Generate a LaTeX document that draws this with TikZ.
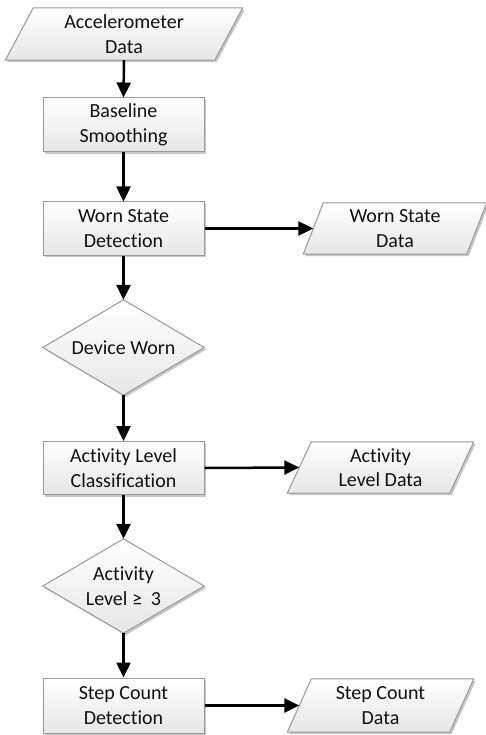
\documentclass[tikz,border=0pt]{standalone}
\usepackage{fontspec}
\setmainfont[Ligatures=NoCommon]{Carlito}
\usetikzlibrary{shadows,arrows.meta,calc}
\pgfdeclarelayer{background}
\pgfsetlayers{background,main}
\definecolor{boxline}{HTML}{999999}
\definecolor{boxbottom}{HTML}{E6E6E6}
\definecolor{txt}{HTML}{111111}
\newcommand\drawpara[2]{%
  \path[shapestyle] ($(#1.north west)+(#2,0)$) -- ($(#1.north east)+(#2,0)$)
    -- ($(#1.south east)-(#2,0)$) -- ($(#1.south west)-(#2,0)$) -- cycle;}
\newcommand\drawdiam[1]{%
  \path[shapestyle] (#1.north) -- (#1.east) -- (#1.south) -- (#1.west) -- cycle;}
\begin{document}
\begin{tikzpicture}[x=1pt,y=-1pt,
  shapestyle/.style={draw=boxline, line width=1pt, top color=white, bottom color=boxbottom,
    drop shadow={shadow xshift=2pt, shadow yshift=-2pt, opacity=0.22, fill=black}},
  lbl/.style={rectangle, align=center, inner sep=0pt, text=txt,
    font=\fontsize{20}{24.5}\selectfont},
  procbox/.style={lbl, shapestyle, minimum width=161pt, minimum height=53pt},
  holder/.style={lbl, minimum width=#1},
  arr/.style={-{Triangle[length=15pt,width=14pt]}, line width=2.5pt, black}
]
\useasboundingbox (0,0) rectangle (486,735);
% nodes
\node[holder=209pt, minimum height=52pt] (acc) at (124,34) {Accelerometer\\Data};
\node[procbox, minimum height=54pt] (bs) at (123.5,125) {Baseline\\Smoothing};
\node[procbox] (wsd) at (123.5,228.5) {Worn State\\Detection};
\node[holder=163pt, minimum height=51pt] (wdata) at (395,228.5) {Worn State\\Data};
\node[holder=161pt, minimum height=95pt] (dw) at (123.5,347.5) {Device Worn};
\node[procbox] (alc) at (123.5,468) {Activity Level\\Classification};
\node[holder=162pt, minimum height=51pt] (aldata) at (380.5,467.5) {Activity\\Level Data};
\node[holder=161pt, minimum height=94pt] (al3) at (123.5,586) {Activity\\Level ≥\hspace{0.45em}3};
\node[procbox, minimum height=55pt] (scd) at (123.5,705.5) {Step Count\\Detection};
\node[holder=162pt, minimum height=53pt] (scdata) at (380.5,705.5) {Step Count\\Data};
% shapes behind text
\begin{pgfonlayer}{background}
\drawpara{acc}{14}
\drawpara{wdata}{10}
\drawpara{aldata}{12}
\drawpara{scdata}{12}
\drawdiam{dw}
\drawdiam{al3}
\end{pgfonlayer}
% connectors
\draw[arr] (acc.south) -- (bs.north);
\draw[arr] (bs.south) -- (wsd.north);
\draw[arr] (wsd.east) -- (wdata.west);
\draw[arr] (wsd.south) -- (dw.north);
\draw[arr] (dw.south) -- (alc.north);
\draw[arr] (alc.east) -- (aldata.west);
\draw[arr] (alc.south) -- (al3.north);
\draw[arr] (al3.south) -- (scd.north);
\draw[arr] (scd.east) -- (scdata.west);
\end{tikzpicture}
\end{document}
